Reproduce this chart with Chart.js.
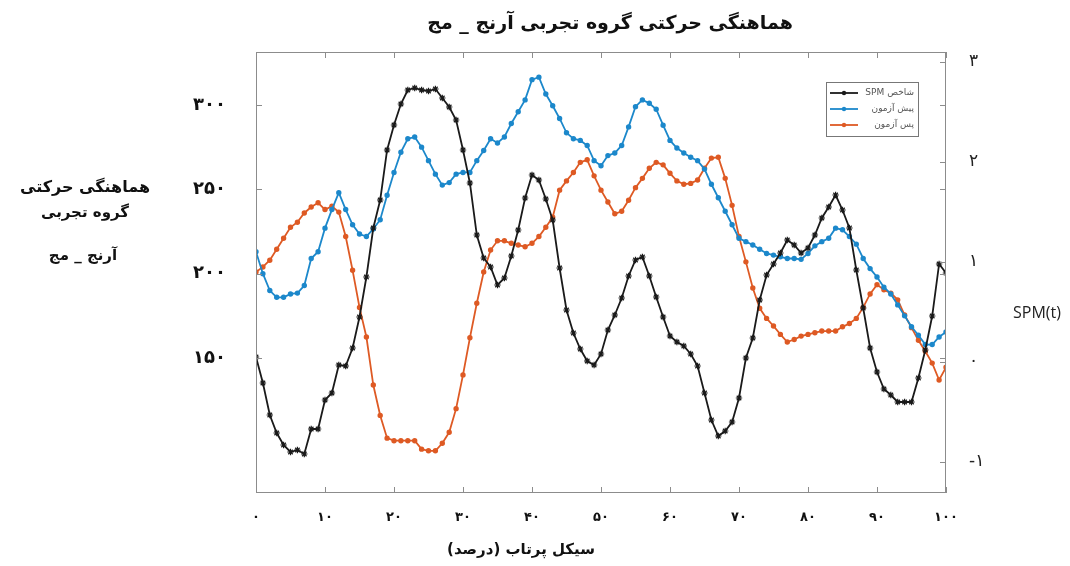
<!DOCTYPE html>
<html>
<head>
<meta charset="utf-8">
<script src="https://cdn.jsdelivr.net/npm/chart.js@4.4.1/dist/chart.umd.min.js"></script>
<style>
    html, body { margin: 0; padding: 0; background: #fff; }
    #wrap { width: 1070px; height: 566px; position: relative; }
</style>
</head>
<body>
<div id="wrap"><canvas id="chart"></canvas></div>
<script>
// Throwing cycle (percent)
const cyclePct = [0, 1, 2, 3, 4, 5, 6, 7, 8, 9, 10, 11, 12, 13, 14, 15, 16, 17, 18, 19, 20,
    21, 22, 23, 24, 25, 26, 27, 28, 29, 30, 31, 32, 33, 34, 35, 36, 37, 38, 39, 40,
    41, 42, 43, 44, 45, 46, 47, 48, 49, 50, 51, 52, 53, 54, 55, 56, 57, 58, 59, 60,
    61, 62, 63, 64, 65, 66, 67, 68, 69, 70, 71, 72, 73, 74, 75, 76, 77, 78, 79, 80,
    81, 82, 83, 84, 85, 86, 87, 88, 89, 90, 91, 92, 93, 94, 95, 96, 97, 98, 99, 100];

// SPM index (right axis)
const spmIndex = [0.05, -0.21, -0.53, -0.71, -0.83, -0.90, -0.88, -0.92, -0.67, -0.67, -0.38,
    -0.31, -0.03, -0.04, 0.14, 0.45, 0.85, 1.34, 1.62, 2.12, 2.37,
    2.58, 2.72, 2.74, 2.72, 2.71, 2.73, 2.64, 2.55, 2.42, 2.12,
    1.79, 1.27, 1.04, 0.95, 0.77, 0.84, 1.06, 1.32, 1.64, 1.87,
    1.82, 1.63, 1.42, 0.94, 0.52, 0.29, 0.13, 0.01, -0.03, 0.08,
    0.32, 0.47, 0.64, 0.86, 1.02, 1.05, 0.86, 0.65, 0.45, 0.26,
    0.20, 0.16, 0.08, -0.04, -0.31, -0.58, -0.74, -0.69, -0.60, -0.36,
    0.04, 0.24, 0.62, 0.87, 0.98, 1.09, 1.22, 1.17, 1.09, 1.14,
    1.27, 1.44, 1.55, 1.67, 1.52, 1.34, 0.92, 0.54, 0.14, -0.10,
    -0.27, -0.33, -0.40, -0.40, -0.40, -0.16, 0.12, 0.46, 0.98, 0.89];

// Pre-test coordination (left axis)
const preTest = [213, 200, 190, 186, 186, 188, 188.5, 193, 209, 213, 227,
    238, 248, 238, 229, 223.5, 222, 226.5, 232, 246.5, 260,
    272, 280, 281, 275, 267, 259, 252.5, 254, 259, 260,
    260, 267, 273, 280, 277.5, 281, 289, 296, 303, 315,
    316.5, 306.5, 299.5, 292, 283.5, 280, 279, 276, 267, 264,
    270, 271.5, 276, 287, 299, 303, 301, 297.5, 288, 279,
    274.5, 271.5, 269, 267, 262, 253, 245, 237, 229, 221,
    219, 217, 214.5, 212, 211, 210, 209, 209, 208.5, 212,
    216.5, 219, 221, 227, 226, 222, 217.5, 209, 203, 198,
    192, 188, 181.5, 175, 168.5, 163.5, 158, 158, 162.5, 165.5];

// Post-test coordination (left axis)
const postTest = [201, 204, 208, 214.5, 221, 227.5, 230.5, 236, 239.5, 242, 238,
    240, 236.5, 222, 202, 180, 162.5, 134, 116, 102.5, 101,
    101, 101, 101, 96, 95, 95, 99.5, 106, 120, 140,
    162, 182.5, 201, 214, 219.5, 219.5, 218, 217, 216, 218,
    222, 227.5, 233.5, 249.5, 255, 260, 266, 267.5, 258, 249.5,
    242.5, 235.5, 237, 243.5, 251, 256.5, 262.5, 266, 264.5, 259.5,
    255, 253, 253.5, 255.5, 262.5, 268.5, 269, 256.5, 240.5, 222,
    207, 191.5, 179.5, 173.5, 169, 164, 159.5, 161, 163, 164,
    165, 166, 166, 166, 168.5, 170.5, 173.5, 180, 188, 193.5,
    190.5, 188.5, 184.5, 175.5, 168, 160.5, 154, 147, 137, 144.5];

const leftTicks = [150, 200, 250, 300];
const rightTicks = [-1, 0, 1, 2, 3];
const xTicks = [0, 10, 20, 30, 40, 50, 60, 70, 80, 90, 100];

const seriesNames = ['شاخص SPM', 'پیش آزمون', 'پس آزمون'];
const titleText = 'هماهنگی حرکتی گروه تجربی آرنج _ مج';
const leftTitleLines = ['هماهنگی حرکتی', 'گروه تجربی', 'آرنج _ مج'];
const xTitleText = 'سیکل پرتاب (درصد)';

const FA = 'DejaVu Sans';
const COLORS = { spm: '#1a1a1a', pre: '#1c88cb', post: '#de5a24' };

function toPersian(n) {
    return String(n).replace(/[0-9]/g, d => '۰۱۲۳۴۵۶۷۸۹'[d]);
}

function points(values) {
    return values.map((v, i) => ({ x: cyclePct[i], y: v }));
}

// Frame, inner ticks, titles and the legend box
const decorations = {
    id: 'decorations',
    afterDraw(chart) {
        const ctx = chart.ctx;
        const a = chart.chartArea;
        const { x, yL, yR } = chart.scales;
        ctx.save();
        ctx.strokeStyle = '#8c8c8c';
        ctx.lineWidth = 1;
        ctx.strokeRect(a.left + 0.5, a.top + 0.5, a.right - a.left - 1, a.bottom - a.top - 1);
        ctx.beginPath();
        xTicks.forEach(v => {
            const px = Math.round(x.getPixelForValue(v)) + 0.5;
            ctx.moveTo(px, a.top); ctx.lineTo(px, a.top + 6);
            ctx.moveTo(px, a.bottom); ctx.lineTo(px, a.bottom - 6);
        });
        leftTicks.forEach(v => {
            const py = Math.round(yL.getPixelForValue(v)) + 0.5;
            ctx.moveTo(a.left, py); ctx.lineTo(a.left + 6, py);
            ctx.moveTo(a.right, py); ctx.lineTo(a.right - 6, py);
        });
        rightTicks.forEach(v => {
            const py = Math.round(yR.getPixelForValue(v)) + 0.5;
            ctx.moveTo(a.right, py); ctx.lineTo(a.right - 6, py);
        });
        ctx.stroke();

        // Persian texts, right to left
        ctx.fillStyle = '#111';
        ctx.textAlign = 'center';
        ctx.textBaseline = 'middle';
        ctx.direction = 'rtl';
        ctx.font = `bold 19px "${FA}"`;
        ctx.fillText(titleText, 610, 24);
        ctx.font = `bold 15px "${FA}"`;
        ctx.fillText(xTitleText, 521, 550);
        ctx.font = `bold 16px "${FA}"`;
        ctx.fillText(leftTitleLines[0], 85, 188);
        ctx.font = `bold 15px "${FA}"`;
        ctx.fillText(leftTitleLines[1], 85, 213);
        ctx.fillText(leftTitleLines[2], 83, 256);
        ctx.direction = 'ltr';
        ctx.font = '16px "Open Sans"';
        ctx.fillStyle = '#222';
        ctx.fillText('SPM(t)', 1037, 313);

        // legend
        const lx = 826, ly = 82, lw = 92, lh = 54;
        ctx.fillStyle = '#fff';
        ctx.fillRect(lx, ly, lw, lh);
        ctx.strokeStyle = '#777';
        ctx.strokeRect(lx + 0.5, ly + 0.5, lw, lh);
        chart.data.datasets.forEach((ds, i) => {
            const ry = ly + 11 + i * 16;
            ctx.strokeStyle = ds.borderColor;
            ctx.lineWidth = 1.8;
            ctx.beginPath();
            ctx.moveTo(lx + 4, ry); ctx.lineTo(lx + 32, ry);
            ctx.stroke();
            ctx.fillStyle = ds.borderColor;
            ctx.beginPath();
            ctx.arc(lx + 18, ry, 2.2, 0, Math.PI * 2);
            ctx.fill();
            ctx.fillStyle = '#555';
            ctx.font = `9px "${FA}"`;
            ctx.direction = 'rtl';
            ctx.textAlign = 'right';
            ctx.fillText(seriesNames[i], lx + lw - 4, ry);
        });
        ctx.restore();
    }
};

document.addEventListener('DOMContentLoaded', function() {
    const ctx = document.getElementById('chart').getContext('2d');
    new Chart(ctx, {
        type: 'line',
        data: {
            datasets: [{
                label: seriesNames[0],
                data: points(spmIndex),
                yAxisID: 'yR',
                borderColor: COLORS.spm,
                backgroundColor: COLORS.spm,
                borderWidth: 1.8,
                pointStyle: 'star',
                pointRadius: 3.2,
                pointBorderWidth: 1.2
            }, {
                label: seriesNames[1],
                data: points(preTest),
                yAxisID: 'yL',
                borderColor: COLORS.pre,
                backgroundColor: COLORS.pre,
                borderWidth: 1.8,
                pointRadius: 1.8
            }, {
                label: seriesNames[2],
                data: points(postTest),
                yAxisID: 'yL',
                borderColor: COLORS.post,
                backgroundColor: COLORS.post,
                borderWidth: 1.8,
                pointRadius: 1.8
            }]
        },
        options: {
            responsive: true,
            maintainAspectRatio: false,
            animation: false,
            layout: { padding: { top: 52, left: 0, right: 0, bottom: 0 } },
            plugins: {
                legend: { display: false },
                title: { display: false },
                tooltip: { enabled: false }
            },
            scales: {
                x: {
                    type: 'linear',
                    min: 0,
                    max: 100,
                    grid: { display: false },
                    border: { display: false },
                    afterBuildTicks: scale => { scale.ticks = xTicks.map(v => ({ value: v })); },
                    afterFit: scale => { scale.height = 73; },
                    ticks: {
                        padding: 9,
                        color: '#111',
                        font: { family: FA, size: 13, weight: 'bold' },
                        callback: v => toPersian(v)
                    }
                },
                yL: {
                    type: 'linear',
                    position: 'left',
                    min: 70,
                    max: 331.4,
                    grid: { display: false },
                    border: { display: false },
                    afterBuildTicks: scale => { scale.ticks = leftTicks.map(v => ({ value: v })); },
                    afterFit: scale => { scale.width = 256; },
                    ticks: {
                        padding: 22,
                        color: '#111',
                        font: { family: FA, size: 18, weight: 'bold' },
                        callback: v => toPersian(v)
                    }
                },
                yR: {
                    type: 'linear',
                    position: 'right',
                    min: -1.31,
                    max: 3.1,
                    grid: { display: false },
                    border: { display: false },
                    afterBuildTicks: scale => { scale.ticks = rightTicks.map(v => ({ value: v })); },
                    afterFit: scale => { scale.width = 124; },
                    ticks: {
                        padding: 15,
                        color: '#222',
                        font: { family: FA, size: 17 },
                        callback: v => (v < 0 ? '-' : '') + toPersian(Math.abs(v))
                    }
                }
            }
        },
        plugins: [decorations]
    });
});
</script>
</body>
</html>
